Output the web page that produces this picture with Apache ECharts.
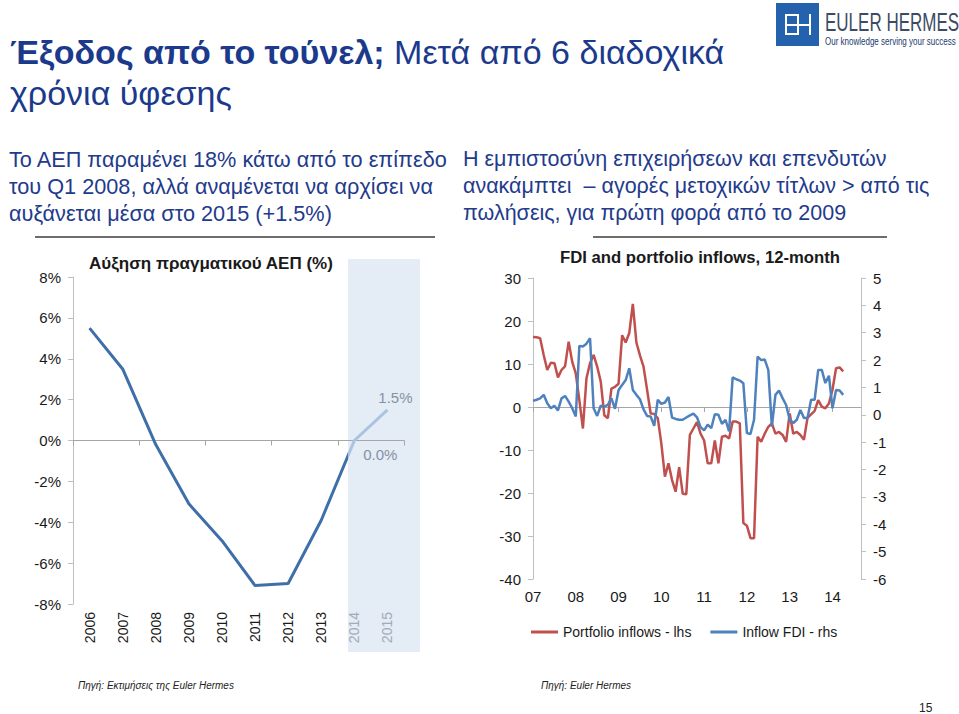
<!DOCTYPE html>
<html><head><meta charset="utf-8">
<script src="https://cdn.jsdelivr.net/npm/echarts@6/dist/echarts.min.js"></script>
<style>
html,body{margin:0;padding:0;background:#fff;width:959px;height:714px;overflow:hidden;font-family:"Liberation Sans",Arial,sans-serif;}
#chart{position:absolute;left:0;top:0;width:959px;height:714px;}
.t{position:absolute;white-space:nowrap;line-height:1;}
.p{color:#1f3b8c;font-size:21.7px;}
.w{position:absolute;background:#fff;}
</style></head><body>
<div id="chart"></div>

<div class="t" style="left:10px;top:35px;font-size:34px;color:#1b3a8c;"><b>Έξοδος από το τούνελ;</b> Μετά από 6 διαδοχικά</div>
<div class="t" style="left:10px;top:76px;font-size:34px;color:#1b3a8c;">χρόνια ύφεσης</div>

<div class="t p" style="left:9px;top:149px;">Το ΑΕΠ παραμένει 18% κάτω από το επίπεδο</div>
<div class="t p" style="left:9px;top:176px;">του Q1 2008, αλλά αναμένεται να αρχίσει να</div>
<div class="t p" style="left:9px;top:203px;">αυξάνεται μέσα στο 2015 (+1.5%)</div>

<div class="t p" style="left:463px;top:149px;font-size:21.5px;">Η εμπιστοσύνη επιχειρήσεων και επενδυτών</div>
<div class="t p" style="left:463px;top:176px;font-size:21.5px;">ανακάμπτει &nbsp;– αγορές μετοχικών τίτλων &gt; από τις</div>
<div class="t p" style="left:463px;top:203px;font-size:21.5px;">πωλήσεις, για πρώτη φορά από το 2009</div>

<div style="position:absolute;left:35px;top:236px;width:400px;height:2px;background:#6d6d6d;"></div>
<div style="position:absolute;left:593px;top:236px;width:294px;height:2px;background:#6d6d6d;"></div>

<div class="t" style="left:61px;top:255px;width:300px;text-align:center;font-size:17px;font-weight:bold;color:#1a1a1a;">Αύξηση πραγματικού ΑΕΠ (%)</div>
<div class="t" style="left:550px;top:250px;width:300px;text-align:center;font-size:16.7px;font-weight:bold;color:#1a1a1a;">FDI and portfolio inflows, 12-month</div>

<!-- logo -->
<div style="position:absolute;left:776px;top:3px;width:43px;height:43px;background:#2462ae;"></div>
<div class="w" style="left:785px;top:14px;width:2px;height:21px;"></div>
<div class="w" style="left:785px;top:14px;width:12px;height:2px;"></div>
<div class="w" style="left:785px;top:24px;width:12px;height:2px;"></div>
<div class="w" style="left:785px;top:33px;width:12px;height:2px;"></div>
<div class="w" style="left:797px;top:14px;width:2px;height:21px;"></div>
<div class="w" style="left:797px;top:24px;width:12px;height:2px;"></div>
<div class="w" style="left:809px;top:14px;width:2px;height:21px;"></div>
<div class="t" style="left:825px;top:10px;font-size:25px;color:#3b4b63;transform:scaleX(0.68);transform-origin:0 0;">EULER HERMES</div>
<div class="t" style="left:825px;top:37px;font-size:10px;color:#223a6e;transform:scaleX(0.8);transform-origin:0 0;">Our knowledge serving your success</div>

<div class="t" style="left:78px;top:681px;font-size:10px;font-style:italic;color:#222;">Πηγή: Εκτιμήσεις της Euler Hermes</div>
<div class="t" style="left:541px;top:681px;font-size:10px;font-style:italic;color:#222;">Πηγή: Euler Hermes</div>
<div class="t" style="left:919px;top:702px;font-size:12px;color:#222;">15</div>

<script>
// ---- Left chart: real GDP growth (%) ----
const gdpYears = ['2006','2007','2008','2009','2010','2011','2012','2013','2014','2015'];
const gdpGrowth = [5.5, 3.5, -0.2, -3.1, -4.9, -7.1, -7.0, -3.9, 0.0, 1.5];
const gdpForecastYears = ['2014','2015'];

// ---- Right chart: monthly, Jan 2007 onward ----
const axisYears = ['2007','2008','2009','2010','2011','2012','2013','2014'];
const extraMonths2014 = ['01','02','03','04','05','06','07','08','09'];
const portfolioInflows = [16.3,16.2,16.0,12.1,8.6,10.3,10.2,6.9,8.6,9.5,
  15.2,10.5,7.8,1.6,-5.0,6.7,10.2,12.1,9.4,5.9,
  -1.9,-2.6,4.3,4.7,5.4,16.7,15.0,17.2,24.0,15.0,
  12.0,9.4,4.0,-1.5,-1.6,-2.6,-8.5,-16.2,-13.1,-17.0,
  -19.7,-14.0,-20.2,-20.3,-6.5,-5.0,-3.5,-6.2,-7.8,-13.1,
  -13.1,-7.8,-13.1,-6.9,-6.7,-7.3,-3.4,-3.4,-3.8,-27.0,
  -27.6,-30.5,-30.5,-6.9,-8.1,-6.2,-4.6,-3.8,-6.2,-5.8,
  -6.5,-8.1,-1.5,-6.2,-5.8,-6.5,-7.6,-2.5,-1.7,-0.9,
  1.6,0.1,-0.3,0.8,4.0,9.0,9.2,8.3];
const fdiInflows = [0.51,0.55,0.6,0.73,0.42,0.24,0.33,0.16,0.6,0.69,
  0.48,0.24,-0.06,2.52,2.5,2.6,2.8,0.24,-0.04,0.33,
  0.3,0.36,0.6,0.22,0.91,1.09,1.27,1.7,0.91,0.73,
  0.57,0.2,-0.04,-0.06,-0.4,0.55,0.4,0.45,0.65,-0.1,
  -0.15,-0.18,-0.18,-0.1,-0.02,0.04,-0.09,-0.45,-0.57,-0.36,
  -0.49,0.02,0.0,-0.33,-0.18,-0.61,1.37,1.3,1.25,1.15,
  -0.67,-0.7,-0.18,2.13,2.0,2.02,1.64,-0.43,0.73,0.89,
  0.61,0.36,-0.18,-0.3,-0.18,0.18,-0.12,-0.12,0.55,0.55,
  1.64,1.64,1.16,1.43,0.24,0.91,0.89,0.73];
const seriesNames = ['Portfolio inflows - lhs','Inflow FDI - rhs'];

const months = [];
const mm = ['01','02','03','04','05','06','07','08','09','10','11','12'];
axisYears.forEach(y => {
  (y === '2014' ? extraMonths2014 : mm).forEach(m => months.push(y + '-' + m));
});

const chart = echarts.init(document.getElementById('chart'), null, {renderer:'svg'});
const gray = '#a6a6a6';
const txt = '#1a1a1a';
const ff = '"Liberation Sans", Arial, sans-serif';
const isJan = (i) => i % 12 === 0;
const dark = '#3f6fa9', light = '#a9c3e1';
const split = 347.5 / 959;

const gdpData = gdpGrowth.map((v, i) => {
  if (gdpYears[i] === '2014') return {value: v, label: {show: true, position: 'bottom', distance: 6, offset: [26, 0]}};
  if (gdpYears[i] === '2015') return {value: v, label: {show: true, position: 'top', distance: 5, offset: [8, 0]}};
  return v;
});

chart.setOption({
  animation: false,
  textStyle: {fontFamily: ff},
  graphic: [{type: 'rect', z: -1, silent: true, shape: {x: 348, y: 259, width: 72, height: 393}, style: {fill: '#e4ecf6'}}],
  grid: [
    {left: 73, right: 555, top: 277, bottom: 110},
    {left: 533, right: 98, top: 278, bottom: 135}
  ],
  legend: {
    left: 526, top: 620, icon: 'rect', itemWidth: 27, itemHeight: 3, itemGap: 19,
    textStyle: {fontSize: 14, color: txt, fontFamily: ff},
    data: seriesNames
  },
  xAxis: [
    {gridIndex: 0, type: 'category', data: gdpYears, boundaryGap: true,
     axisLine: {onZero: true, lineStyle: {color: gray}}, axisTick: {show: true, length: 5, lineStyle: {color: gray}},
     axisLabel: {show: false}},
    {gridIndex: 0, type: 'category', data: gdpYears, boundaryGap: true, position: 'bottom',
     axisLine: {show: false, onZero: false}, axisTick: {show: false},
     axisLabel: {rotate: 90, margin: 8, fontSize: 14, fontFamily: ff,
       color: (v) => gdpForecastYears.indexOf(v) >= 0 ? '#a3abb6' : txt}},
    {gridIndex: 1, type: 'category', data: months, boundaryGap: false,
     axisLine: {onZero: true, onZeroAxisIndex: 1, lineStyle: {color: gray}},
     axisTick: {show: true, interval: isJan, length: 5, lineStyle: {color: gray}},
     axisLabel: {show: false}},
    {gridIndex: 1, type: 'category', data: months, boundaryGap: false, position: 'bottom',
     axisLine: {show: false, onZero: false}, axisTick: {show: false},
     axisLabel: {interval: isJan, margin: 10, fontSize: 15, color: txt, fontFamily: ff,
       formatter: (v) => v.slice(2, 4)}}
  ],
  yAxis: [
    {gridIndex: 0, type: 'value', min: -8, max: 8, interval: 2,
     axisLine: {show: true, lineStyle: {color: '#bfbfbf'}}, axisTick: {show: true, length: 5, lineStyle: {color: '#bfbfbf'}},
     splitLine: {show: false},
     axisLabel: {formatter: '{value}%', fontSize: 15, color: txt, margin: 12, fontFamily: ff}},
    {gridIndex: 1, type: 'value', min: -40, max: 30, interval: 10, position: 'left',
     axisLine: {show: true, lineStyle: {color: '#bfbfbf'}}, axisTick: {show: true, length: 5, lineStyle: {color: '#bfbfbf'}},
     splitLine: {show: false},
     axisLabel: {fontSize: 15, color: txt, margin: 12, fontFamily: ff}},
    {gridIndex: 1, type: 'value', min: -6, max: 5, interval: 1, position: 'right',
     axisLine: {show: true, lineStyle: {color: '#bfbfbf'}}, axisTick: {show: true, length: 5, lineStyle: {color: '#bfbfbf'}},
     splitLine: {show: false},
     axisLabel: {fontSize: 15, color: txt, margin: 12, fontFamily: ff}}
  ],
  series: [
    {type: 'line', xAxisIndex: 0, yAxisIndex: 0, data: gdpData, symbol: 'circle', symbolSize: 0,
     color: dark,
     lineStyle: {width: 3, color: {type: 'linear', x: 0, y: 0, x2: 959, y2: 0, global: true,
       colorStops: [{offset: 0, color: dark}, {offset: split, color: dark}, {offset: split, color: light}, {offset: 1, color: light}]}},
     z: 3,
     label: {fontSize: 15, color: '#8592a4', fontFamily: ff, formatter: (p) => p.value.toFixed(1) + '%'}},
    {name: seriesNames[0], type: 'line', xAxisIndex: 2, yAxisIndex: 1, data: portfolioInflows, symbol: 'none',
     color: '#c0504d', lineStyle: {width: 2.5, color: '#c0504d'}, z: 3},
    {name: seriesNames[1], type: 'line', xAxisIndex: 2, yAxisIndex: 2, data: fdiInflows, symbol: 'none',
     color: '#4f81bd', lineStyle: {width: 2.5, color: '#4f81bd'}, z: 4}
  ]
});
</script>
</body></html>
